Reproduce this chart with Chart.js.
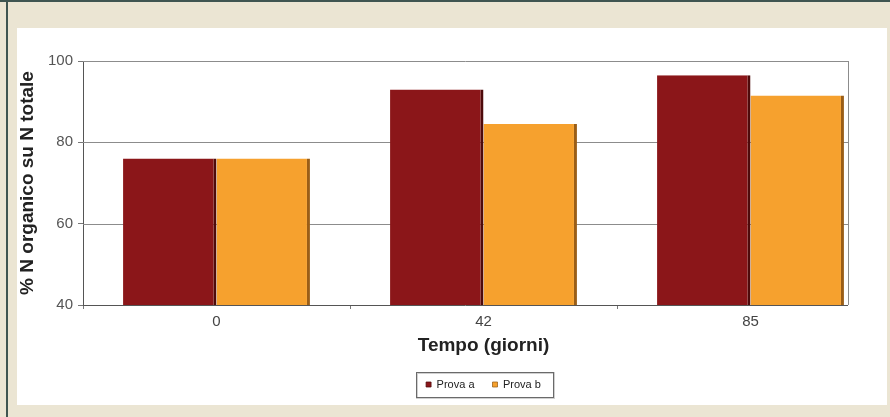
<!DOCTYPE html>
<html>
<head>
<meta charset="utf-8">
<script src="https://cdn.jsdelivr.net/npm/chart.js@4/dist/chart.umd.min.js"></script>
<style>
  html, body { margin: 0; padding: 0; background: #ebe5d3; }
  #wrap { width: 890px; height: 417px; position: relative; }
</style>
</head>
<body>
<div id="wrap"><canvas id="c" width="890" height="417"></canvas></div>
<script>
const categories = ['0', '42', '85'];
const provaA = [76, 93, 96.5];
const provaB = [76, 84.5, 91.5];
const seriesNames = ['Prova a', 'Prova b'];
const yTicks = [40, 60, 80, 100];

const PLOT_RIGHT = 848;

const framePlugin = {
  id: 'frame',
  beforeDraw(chart) {
    const ctx = chart.ctx;
    ctx.save();
    ctx.fillStyle = '#ebe5d3';
    ctx.fillRect(0, 0, chart.width, chart.height);
    ctx.fillStyle = '#3f5551';
    ctx.fillRect(0, 0, chart.width, 2);
    ctx.fillRect(6, 0, 2, chart.height);
    ctx.fillStyle = '#ffffff';
    ctx.fillRect(17, 28, 870, 377);
    ctx.restore();
  },
  beforeDatasetsDraw(chart) {
    const ctx = chart.ctx;
    const y = chart.scales.y;
    const a = chart.chartArea;
    ctx.save();
    ctx.lineWidth = 1;
    yTicks.forEach(v => {
      const py = Math.round(y.getPixelForValue(v)) + 0.5;
      ctx.strokeStyle = v === yTicks[0] ? '#555555' : '#8c8c8c';
      ctx.beginPath();
      ctx.moveTo(a.left, py);
      ctx.lineTo(PLOT_RIGHT, py);
      ctx.stroke();
    });
    ctx.strokeStyle = '#8c8c8c';
    ctx.beginPath();
    ctx.moveTo(PLOT_RIGHT + 0.5, a.top);
    ctx.lineTo(PLOT_RIGHT + 0.5, a.bottom);
    ctx.stroke();
    ctx.restore();
  },
  afterDraw(chart) {
    const lg = chart.legend;
    if (!lg || !lg.legendHitBoxes || !lg.legendHitBoxes.length) return;
    let minX = Infinity, maxX = -Infinity, minY = Infinity, maxY = -Infinity;
    lg.legendHitBoxes.forEach(b => {
      minX = Math.min(minX, b.left); maxX = Math.max(maxX, b.left + b.width);
      minY = Math.min(minY, b.top); maxY = Math.max(maxY, b.top + b.height);
    });
    const ctx = chart.ctx;
    const bx = Math.round(minX - 10), by = Math.round(minY - 7);
    const bw = Math.round(maxX - minX + 22), bh = Math.round(maxY - minY + 14);
    ctx.save();
    ctx.strokeStyle = '#d0d0d0';
    ctx.lineWidth = 2;
    ctx.strokeRect(bx + 1, by + 1, bw, bh);
    ctx.strokeStyle = '#6a6a6a';
    ctx.lineWidth = 1;
    ctx.strokeRect(bx + 0.5, by + 0.5, bw, bh);
    ctx.restore();
  }
};

new Chart(document.getElementById('c'), {
  type: 'bar',
  data: {
    labels: categories,
    datasets: [
      {
        label: seriesNames[0],
        data: provaA,
        backgroundColor: '#8b1619',
        borderColor: '#4e0a0b',
        borderWidth: { top: 0, left: 0, bottom: 0, right: 3 },
        borderSkipped: false
      },
      {
        label: seriesNames[1],
        data: provaB,
        backgroundColor: '#f6a12e',
        borderColor: '#9a5e17',
        borderWidth: { top: 0, left: 0, bottom: 0, right: 3 },
        borderSkipped: false
      }
    ]
  },
  plugins: [framePlugin],
  options: {
    responsive: false,
    animation: false,
    devicePixelRatio: 1,
    layout: { padding: { left: 0, right: 6, top: 61, bottom: 17 } },
    datasets: { bar: { categoryPercentage: 0.7, barPercentage: 1.0 } },
    plugins: {
      legend: {
        position: 'bottom',
        fullSize: false,
        labels: {
          boxWidth: 5,
          boxHeight: 5,
          padding: 18,
          color: '#222',
          font: { family: 'Arial, "Liberation Sans", sans-serif', size: 11 }
        }
      },
      tooltip: { enabled: false }
    },
    scales: {
      x: {
        type: 'category',
        offset: true,
        border: { display: false },
        grid: {
          display: true,
          offset: true,
          drawOnChartArea: false,
          drawTicks: true,
          tickLength: 4,
          color: ctx => ((ctx.index === undefined || ctx.index >= 3) ? 'rgba(0,0,0,0)' : '#777777')
        },
        ticks: {
          padding: 4,
          color: '#444',
          font: { family: 'Arial, "Liberation Sans", sans-serif', size: 15 }
        },
        title: {
          display: true,
          text: 'Tempo (giorni)',
          color: '#222',
          padding: { top: 0, bottom: 3.6 },
          font: { family: 'Arial, "Liberation Sans", sans-serif', size: 19, weight: 'bold' }
        },
        afterFit(scale) { scale.height = 56; }
      },
      y: {
        min: 40,
        max: 100,
        border: { display: true, color: '#555555', width: 1 },
        grid: {
          display: true,
          drawOnChartArea: false,
          drawTicks: true,
          tickLength: 5,
          color: '#777777'
        },
        afterBuildTicks(scale) { scale.ticks = yTicks.map(v => ({ value: v })); },
        ticks: {
          padding: 5,
          color: '#555',
          font: { family: 'Arial, "Liberation Sans", sans-serif', size: 15 }
        },
        title: {
          display: true,
          text: '% N organico su N totale',
          color: '#222',
          padding: { top: 16.6, bottom: 0 },
          font: { family: 'Arial, "Liberation Sans", sans-serif', size: 19, weight: 'bold' }
        },
        afterFit(scale) { scale.width = 83; }
      }
    }
  }
});
</script>
</body>
</html>
